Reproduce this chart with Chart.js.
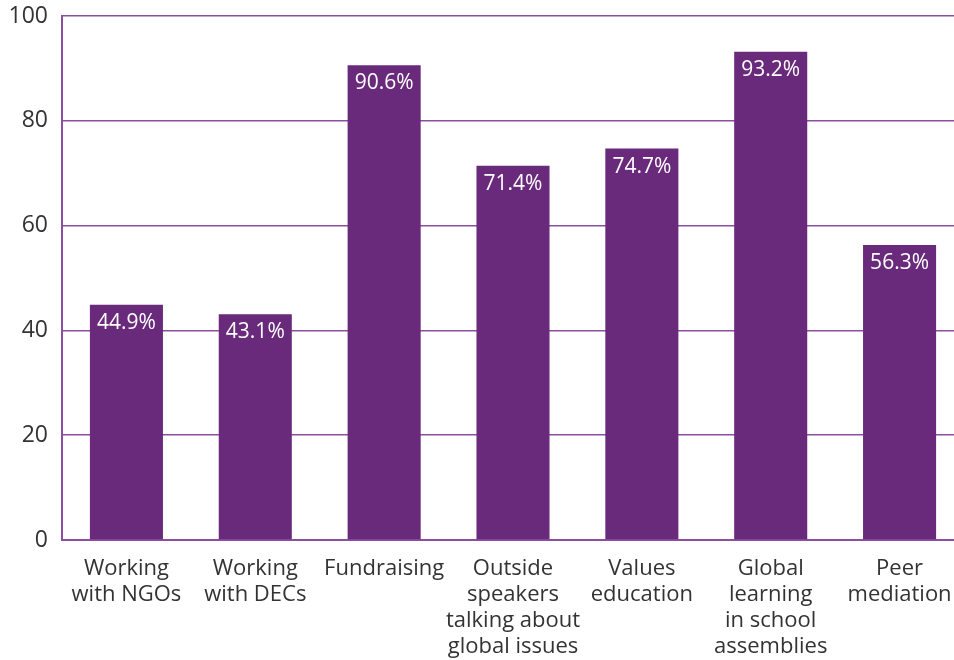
<!DOCTYPE html>
<html>
<head>
<meta charset="utf-8">
<script src="https://cdn.jsdelivr.net/npm/chart.js@4"></script>
<style>
  html, body { margin: 0; padding: 0; background: #fff; overflow: hidden; }
  #wrap { width: 954px; height: 660px; overflow: hidden; }
</style>
</head>
<body>
<div id="wrap"><canvas id="barChart" width="964" height="660"></canvas></div>
<script>
//============================================= Data =============================================//
const categories = [
    ['Working', 'with NGOs'],
    ['Working', 'with DECs'],
    ['Fundraising'],
    ['Outside', 'speakers', 'talking about', 'global issues'],
    ['Values', 'education'],
    ['Global', 'learning', 'in school', 'assemblies'],
    ['Peer', 'mediation']
];
const percentValues = [44.9, 43.1, 90.6, 71.4, 74.7, 93.2, 56.3];
const yTicks = [0, 20, 40, 60, 80, 100];

const purple = '#6a2a7c';
const gridPurple = '#8c4f9f';
const fontFamily = '"Open Sans", "Noto Sans", sans-serif';

//============================================= Value labels =============================================//
const barLabels = {
    id: 'barLabels',
    afterDatasetsDraw(chart) {
        const {ctx} = chart;
        const meta = chart.getDatasetMeta(0);
        ctx.save();
        ctx.font = '21px ' + fontFamily;
        ctx.fillStyle = '#ffffff';
        ctx.textAlign = 'center';
        ctx.textBaseline = 'middle';
        meta.data.forEach((bar, i) => {
            ctx.fillText(percentValues[i].toFixed(1) + '%', bar.x, bar.y + 18);
        });
        ctx.restore();
    }
};

//============================================= Bar chart =============================================//
const barConfig = {
    type: 'bar',
    data: {
        labels: categories,
        datasets: [{
            data: percentValues,
            backgroundColor: purple,
            barPercentage: 0.567,
            categoryPercentage: 1
        }]
    },
    options: {
        responsive: false,
        animation: false,
        layout: {
            padding: {top: 16, right: 0, left: 0, bottom: 0}
        },
        plugins: {
            legend: {display: false},
            tooltip: {enabled: false}
        },
        scales: {
            x: {
                grid: {display: false, drawTicks: false},
                border: {color: gridPurple, width: 2},
                ticks: {
                    color: '#333333',
                    padding: 16,
                    maxRotation: 0,
                    autoSkip: false,
                    font: {family: fontFamily, size: 22, lineHeight: 1.18}
                },
                afterFit: s => {
                    s.height = 120;
                    s.paddingLeft = 0;
                    s.paddingRight = 0;
                }
            },
            y: {
                min: 0,
                max: 100,
                afterBuildTicks: s => { s.ticks = yTicks.map(v => ({value: v})); },
                grid: {color: gridPurple, lineWidth: 1.5, drawTicks: false},
                border: {color: gridPurple, width: 2},
                ticks: {
                    color: '#333333',
                    padding: 14,
                    font: {family: fontFamily, size: 23}
                },
                afterFit: s => {
                    s.width = 62;
                    s.paddingTop = 0;
                    s.paddingBottom = 0;
                }
            }
        }
    },
    plugins: [barLabels]
};

new Chart(document.getElementById('barChart'), barConfig);
</script>
</body>
</html>
